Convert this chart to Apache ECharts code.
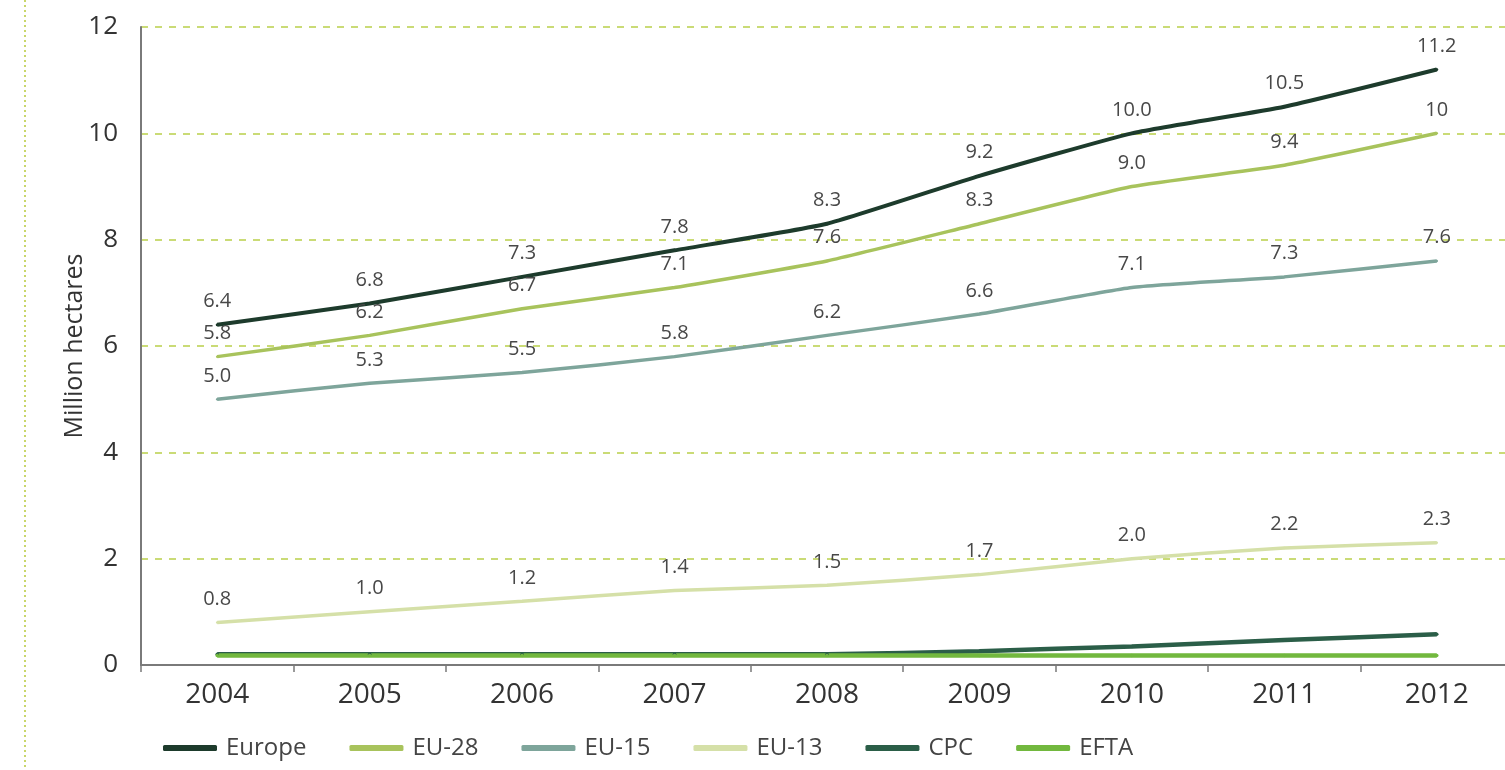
<!DOCTYPE html>
<html>
<head>
<meta charset="utf-8">
<script src="https://cdn.jsdelivr.net/npm/echarts@6/dist/echarts.min.js"></script>
<style>
html,body{margin:0;padding:0;background:#fff;overflow:hidden;width:1505px;height:770px;}
#chart{width:1513px;height:770px;}
</style>
</head>
<body>
<div id="chart"></div>
<script>
const years = ['2004','2005','2006','2007','2008','2009','2010','2011','2012'];
const europe = [6.4, 6.8, 7.3, 7.8, 8.3, 9.2, 10.0, 10.5, 11.2];
const eu28 = [5.8, 6.2, 6.7, 7.1, 7.6, 8.3, 9.0, 9.4, 10];
const eu15 = [5.0, 5.3, 5.5, 5.8, 6.2, 6.6, 7.1, 7.3, 7.6];
const eu13 = [0.8, 1.0, 1.2, 1.4, 1.5, 1.7, 2.0, 2.2, 2.3];
const cpc = [0.2, 0.2, 0.2, 0.2, 0.2, 0.26, 0.35, 0.47, 0.58];
const efta = [0.18, 0.18, 0.18, 0.18, 0.18, 0.18, 0.18, 0.18, 0.18];
const yTicks = [0, 2, 4, 6, 8, 10, 12];

const FONT = '"Open Sans", "DejaVu Sans", sans-serif';
const chart = echarts.init(document.getElementById('chart'));

function lbl(fmt) {
  return {
    show: true, position: 'top', distance: 12,
    fontFamily: FONT, fontSize: 20, color: '#484848',
    formatter: fmt || (p => p.value.toFixed(1))
  };
}
function line(name, data, color, width, label) {
  return {
    name, type: 'line', data, smooth: 0.15,
    showSymbol: true, symbol: 'circle', symbolSize: Math.max(1, width - 1),
    lineStyle: { color, width },
    itemStyle: { color },
    label: label || { show: false },
    emphasis: { disabled: true },
    animation: false
  };
}

chart.setOption({
  animation: false,
  grid: { left: 141, right: 0, top: 27, bottom: 105 },
  legend: {
    left: 158, bottom: 5,
    itemWidth: 54, itemHeight: 6, itemGap: 43,
    icon: 'roundRect',
    textStyle: { fontFamily: FONT, fontSize: 24, color: '#444', padding: [0, 0, 0, 4] },
    data: ['Europe', 'EU-28', 'EU-15', 'EU-13', 'CPC', 'EFTA']
  },
  xAxis: {
    type: 'category', data: years, boundaryGap: true,
    axisLine: { lineStyle: { color: '#7a7a7a', width: 2 } },
    axisTick: { show: true, length: 7, lineStyle: { color: '#7a7a7a', width: 1.5 } },
    axisLabel: { fontFamily: FONT, fontSize: 28, color: '#333', margin: 16 }
  },
  yAxis: {
    type: 'value', min: 0, max: 12, interval: 2,
    name: 'Million hectares', nameLocation: 'middle', nameGap: 54,
    nameMoveOverlap: false,
    nameTextStyle: { fontFamily: FONT, fontSize: 25, color: '#333' },
    axisLine: { show: true, lineStyle: { color: '#7a7a7a', width: 2 } },
    axisTick: { show: false },
    axisLabel: { fontFamily: FONT, fontSize: 26, color: '#333', margin: 23,
      formatter: v => yTicks.includes(v) ? String(v) : '' },
    splitLine: { show: true, lineStyle: { color: '#b9cf4a', width: 1.5, type: [7, 7] } }
  },
  graphic: [{
    type: 'line', shape: { x1: 25, y1: 0, x2: 25, y2: 770 },
    style: { stroke: '#c9d66a', lineWidth: 2, lineDash: [2, 3] }, silent: true
  }],
  series: [
    line('Europe', europe, '#1d3b2c', 4, lbl()),
    line('EU-28', eu28, '#a8c35c', 3.5, lbl(p => p.dataIndex === eu28.length - 1 ? String(p.value) : p.value.toFixed(1))),
    line('EU-15', eu15, '#7ea59b', 3.5, lbl()),
    line('EU-13', eu13, '#d5e0a8', 3.5, lbl()),
    line('CPC', cpc, '#2b5e48', 4.5),
    line('EFTA', efta, '#72b83e', 4.5)
  ]
});
</script>
</body>
</html>
